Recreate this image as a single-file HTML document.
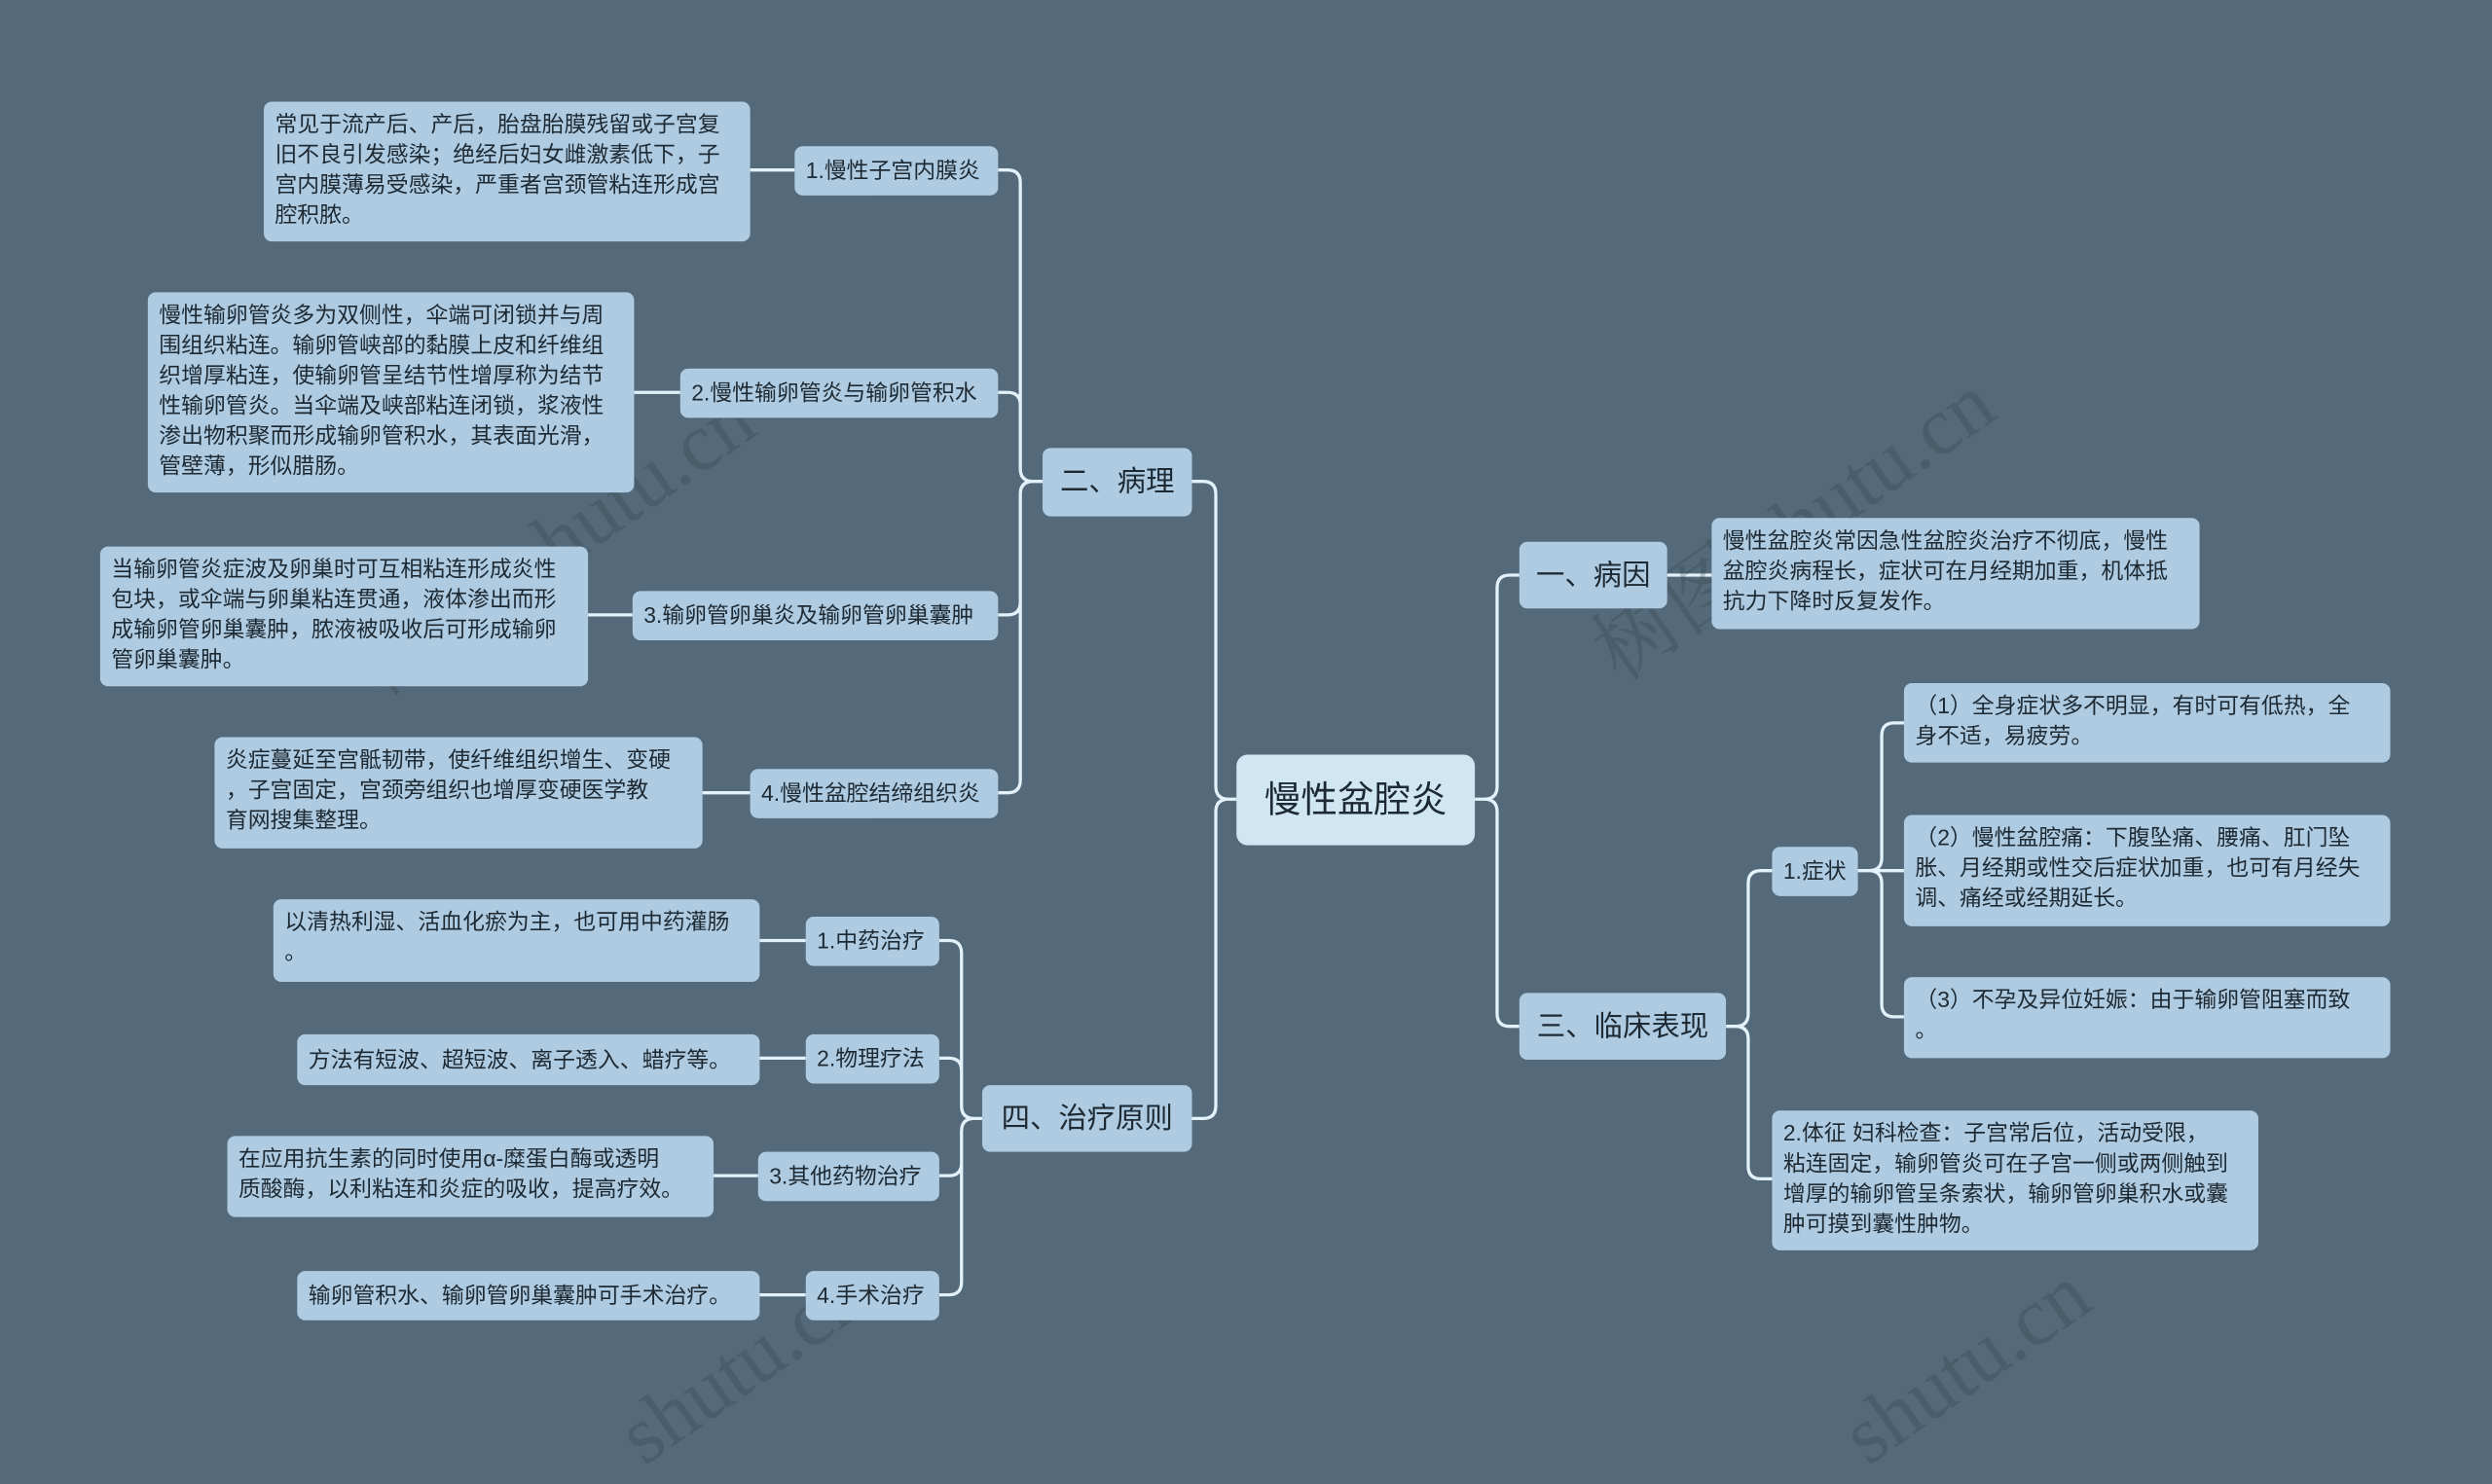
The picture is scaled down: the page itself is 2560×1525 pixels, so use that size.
<!DOCTYPE html>
<html><head><meta charset="utf-8">
<style>
html,body{margin:0;padding:0;background:#546a7a;width:2560px;height:1462px;overflow:hidden}
#c{position:absolute;left:0;top:0;width:1568px;height:895px;transform:scale(1.632653);transform-origin:0 0;font-family:"Liberation Sans","Noto Sans CJK SC",sans-serif;color:#1e2a33}
.n{position:absolute;background:#aecbe2;border-radius:5px;box-sizing:border-box;font-size:14px;line-height:19px;padding:0 7px;display:flex;align-items:center;white-space:nowrap}
.d{display:block;padding-top:5px}
.m{font-size:18px;justify-content:center}
.r{background:#d0e6f2;font-size:23px;justify-content:center;border-radius:7px}
svg{position:absolute;left:0;top:0}
.w{position:absolute;font-size:52px;color:rgba(40,55,65,0.25);transform:rotate(-35deg);font-family:"Liberation Serif","Noto Serif CJK SC",serif;white-space:nowrap}
</style></head><body><div id="c">
<svg id="s" width="1568" height="895"></svg>
<div class="w" style="left:200px;top:300px">树图 shutu.cn</div>
<div class="w" style="left:980px;top:290px">树图 shutu.cn</div>
<div class="w" style="left:380px;top:830px">shutu.cn</div>
<div class="w" style="left:1150px;top:830px">shutu.cn</div>

<div class="n r" style="left:778px;top:475px;width:150px;height:57px">慢性盆腔炎</div>
<div class="n m" style="left:656px;top:282px;width:94px;height:43px">二、病理</div>
<div class="n m" style="left:618px;top:683px;width:132px;height:42px">四、治疗原则</div>
<div class="n m" style="left:956px;top:341px;width:93px;height:42px">一、病因</div>
<div class="n m" style="left:956px;top:625px;width:130px;height:42px">三、临床表现</div>

<div class="n" style="left:500px;top:92px;width:128px;height:31px">1.慢性子宫内膜炎</div>
<div class="n d" style="left:166px;top:64px;width:306px;height:88px">常见于流产后、产后，胎盘胎膜残留或子宫复<br>旧不良引发感染；绝经后妇女雌激素低下，子<br>宫内膜薄易受感染，严重者宫颈管粘连形成宫<br>腔积脓。</div>
<div class="n" style="left:428px;top:232px;width:200px;height:31px">2.慢性输卵管炎与输卵管积水</div>
<div class="n d" style="left:93px;top:184px;width:306px;height:126px">慢性输卵管炎多为双侧性，伞端可闭锁并与周<br>围组织粘连。输卵管峡部的黏膜上皮和纤维组<br>织增厚粘连，使输卵管呈结节性增厚称为结节<br>性输卵管炎。当伞端及峡部粘连闭锁，浆液性<br>渗出物积聚而形成输卵管积水，其表面光滑，<br>管壁薄，形似腊肠。</div>
<div class="n" style="left:398px;top:372px;width:230px;height:31px">3.输卵管卵巢炎及输卵管卵巢囊肿</div>
<div class="n d" style="left:63px;top:344px;width:307px;height:88px">当输卵管炎症波及卵巢时可互相粘连形成炎性<br>包块，或伞端与卵巢粘连贯通，液体渗出而形<br>成输卵管卵巢囊肿，脓液被吸收后可形成输卵<br>管卵巢囊肿。</div>
<div class="n" style="left:472px;top:484px;width:156px;height:31px">4.慢性盆腔结缔组织炎</div>
<div class="n d" style="left:135px;top:464px;width:307px;height:70px">炎症蔓延至宫骶韧带，使纤维组织增生、变硬<br>，子宫固定，宫颈旁组织也增厚变硬医学教<br>育网搜集整理。</div>

<div class="n" style="left:507px;top:577px;width:84px;height:31px">1.中药治疗</div>
<div class="n d" style="left:172px;top:566px;width:306px;height:52px">以清热利湿、活血化瘀为主，也可用中药灌肠<br>。</div>
<div class="n" style="left:507px;top:651px;width:84px;height:31px">2.物理疗法</div>
<div class="n" style="left:187px;top:651px;width:291px;height:32px">方法有短波、超短波、离子透入、蜡疗等。</div>
<div class="n" style="left:477px;top:725px;width:114px;height:31px">3.其他药物治疗</div>
<div class="n d" style="left:143px;top:715px;width:306px;height:51px">在应用抗生素的同时使用α-糜蛋白酶或透明<br>质酸酶，以利粘连和炎症的吸收，提高疗效。</div>
<div class="n" style="left:507px;top:800px;width:84px;height:31px">4.手术治疗</div>
<div class="n" style="left:187px;top:800px;width:291px;height:31px">输卵管积水、输卵管卵巢囊肿可手术治疗。</div>

<div class="n d" style="left:1077px;top:326px;width:307px;height:70px">慢性盆腔炎常因急性盆腔炎治疗不彻底，慢性<br>盆腔炎病程长，症状可在月经期加重，机体抵<br>抗力下降时反复发作。</div>
<div class="n" style="left:1115px;top:533px;width:54px;height:31px">1.症状</div>
<div class="n d" style="left:1198px;top:430px;width:306px;height:50px">（1）全身症状多不明显，有时可有低热，全<br>身不适，易疲劳。</div>
<div class="n d" style="left:1198px;top:513px;width:306px;height:70px">（2）慢性盆腔痛：下腹坠痛、腰痛、肛门坠<br>胀、月经期或性交后症状加重，也可有月经失<br>调、痛经或经期延长。</div>
<div class="n d" style="left:1198px;top:615px;width:306px;height:51px">（3）不孕及异位妊娠：由于输卵管阻塞而致<br>。</div>
<div class="n d" style="left:1115px;top:699px;width:306px;height:88px">2.体征 妇科检查：子宫常后位，活动受限，<br>粘连固定，输卵管炎可在子宫一侧或两侧触到<br>增厚的输卵管呈条索状，输卵管卵巢积水或囊<br>肿可摸到囊性肿物。</div>
</div>
<script>
var s=document.getElementById('s'),P='';
function c(px,py,vx,cx,cy){var r=8,dy=cy-py,sg=dy>0?1:-1,dx=cx>px?1:-1;
if(Math.abs(dy)<1){P+='M'+px+' '+py+'H'+cx;return;}
var rr=Math.min(r,Math.abs(dy));
P+='M'+px+' '+py+'H'+(vx-dx*rr)+'Q'+vx+' '+py+' '+vx+' '+(py+sg*rr)+'V'+(cy-sg*rr)+'Q'+vx+' '+cy+' '+(vx+dx*rr)+' '+cy+'H'+cx;}
// root
c(778,503,765,750,303);c(778,503,765,750,704);
c(928,503,942,956,362);c(928,503,942,956,646);
// pathology
[[107,628,472],[247,628,399],[387,628,370],[499,628,442]].forEach(function(a){c(656,303,642,a[1],a[0]);});
P+='M500 107H472M428 247H399M398 387H370M472 499H442';
// treatment
[592,666,740,815].forEach(function(y){c(618,704,605,591,y);});
P+='M507 592H478M507 666H478M477 740H449M507 815H478';
// right
P+='M1049 362H1077';
c(1086,646,1100,1115,548);c(1086,646,1100,1115,742);
c(1169,548,1184,1198,455);c(1169,548,1184,1198,548);c(1169,548,1184,1198,640);
s.innerHTML='<path d="'+P+'" fill="none" stroke="#e2f1fa" stroke-width="2"/>';
</script>
</body></html>
